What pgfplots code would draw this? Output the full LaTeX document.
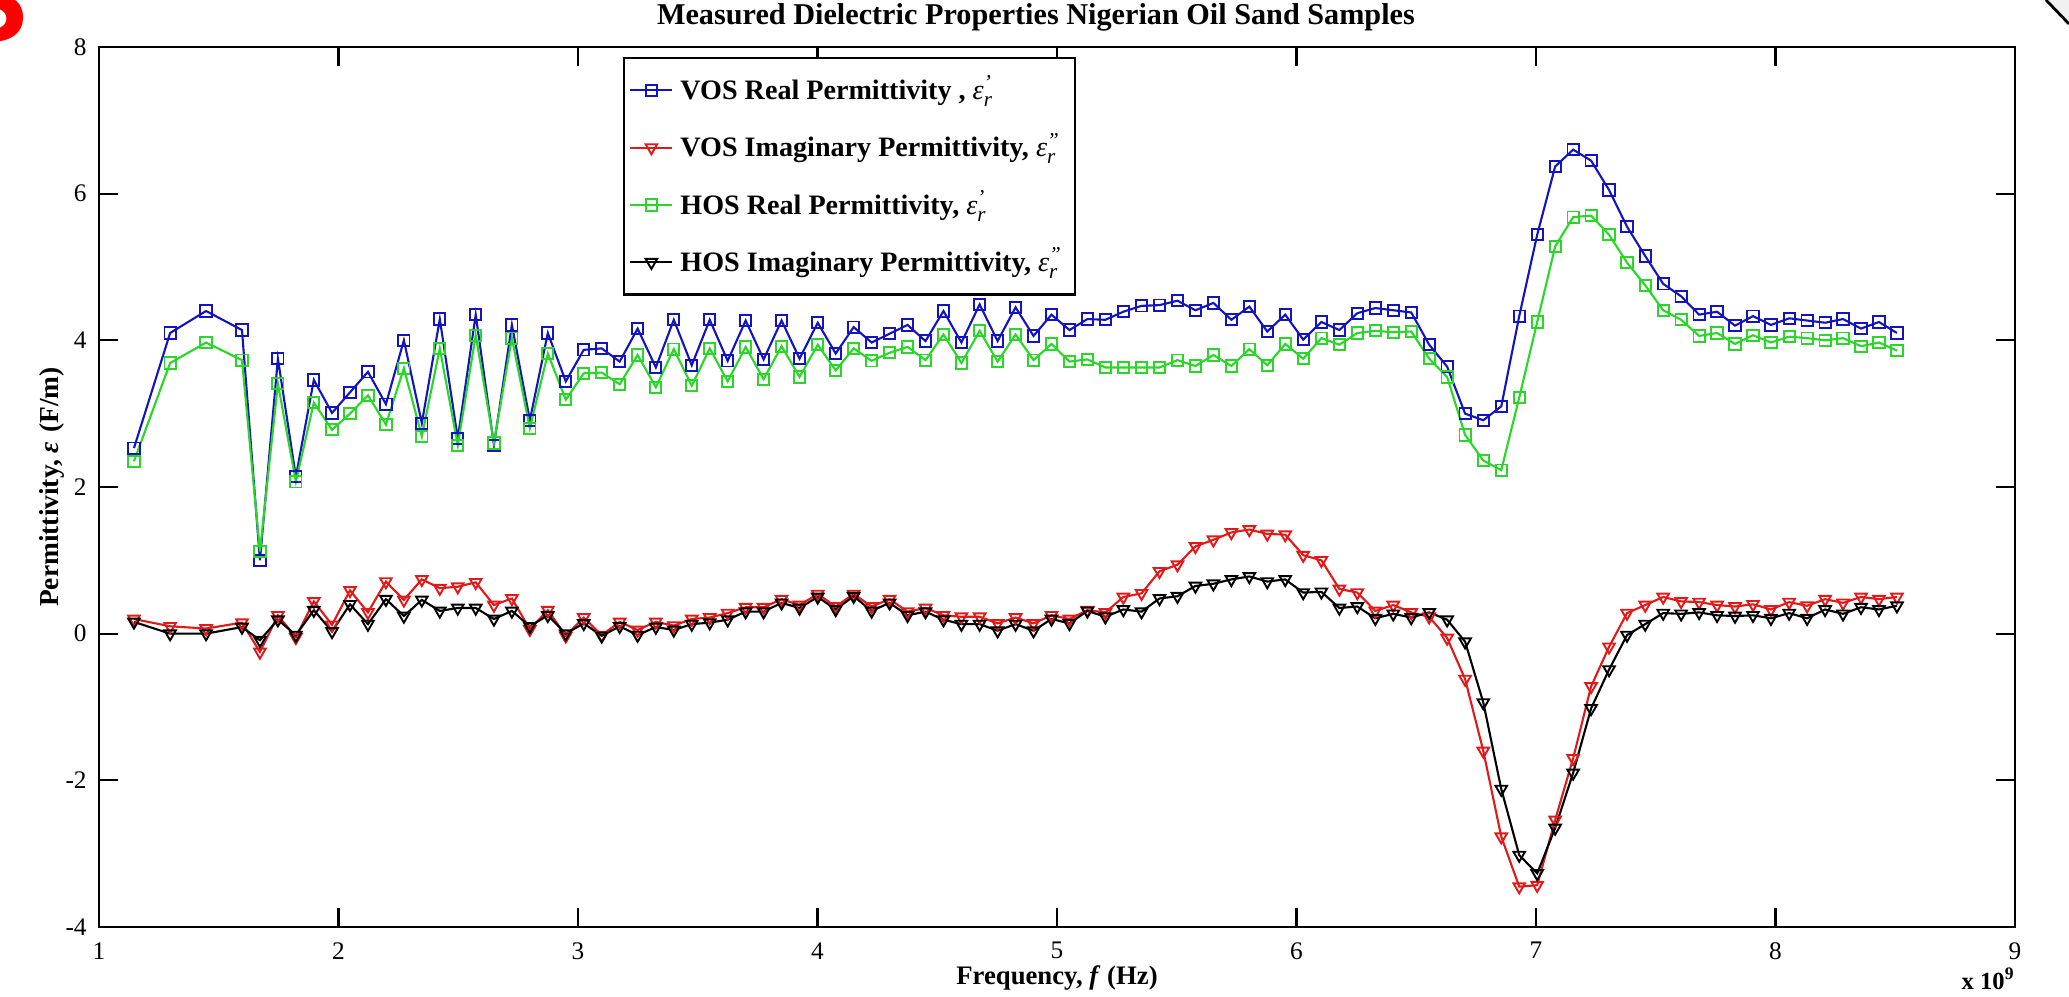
\documentclass[border=0pt]{standalone}
\usepackage{fontspec}
\setmainfont{Liberation Serif}
\usepackage{amsmath}
\usepackage{pgfplots}
\usepackage{pgfplotstable}
\pgfplotsset{compat=1.18}

\definecolor{vosblue}{RGB}{20,20,190}
\definecolor{vosred}{RGB}{225,25,25}
\definecolor{hosgreen}{RGB}{40,215,40}

% eps'_r style symbol for the legend
\newcommand{\epsr}[1]{{\mdseries\itshape ε}$^{\text{\mdseries\itshape #1}}_{\text{\mdseries\itshape r}}$}

% f in GHz; vr/vi = VOS real/imag, hr/hi = HOS real/imag
\pgfplotstableread{
f     vr    vi     hr    hi
1.146 2.53  0.20   2.35  0.16
1.297 4.10  0.10   3.69  0.00
1.447 4.40  0.07   3.97  0.00
1.597 4.14  0.15   3.73  0.09
1.672 1.00  -0.25  1.12  -0.09
1.747 3.75  0.25   3.41  0.19
1.822 2.14  -0.05  2.07  -0.02
1.897 3.46  0.44   3.15  0.32
1.973 3.01  0.12   2.78  0.03
2.048 3.29  0.59   3.00  0.40
2.123 3.57  0.29   3.25  0.13
2.198 3.13  0.71   2.85  0.47
2.273 4.00  0.46   3.62  0.24
2.348 2.87  0.74   2.69  0.46
2.423 4.29  0.62   3.89  0.31
2.498 2.66  0.64   2.57  0.35
2.573 4.35  0.70   4.07  0.35
2.649 2.57  0.39   2.60  0.20
2.724 4.21  0.48   4.03  0.31
2.799 2.91  0.06   2.80  0.10
2.874 4.10  0.32   3.82  0.25
2.949 3.44  -0.03  3.19  0.00
3.024 3.87  0.22   3.55  0.14
3.099 3.89  -0.02  3.56  -0.03
3.174 3.71  0.16   3.40  0.10
3.249 4.16  0.05   3.80  -0.02
3.325 3.63  0.16   3.36  0.09
3.400 4.28  0.11   3.88  0.05
3.475 3.66  0.20   3.38  0.13
3.550 4.28  0.22   3.89  0.15
3.625 3.72  0.28   3.44  0.19
3.700 4.27  0.36   3.91  0.30
3.775 3.74  0.36   3.47  0.30
3.850 4.27  0.47   3.92  0.42
3.925 3.75  0.39   3.50  0.35
4.001 4.24  0.54   3.94  0.50
4.076 3.82  0.37   3.59  0.33
4.151 4.18  0.54   3.89  0.51
4.226 3.97  0.37   3.72  0.31
4.301 4.09  0.47   3.83  0.42
4.376 4.21  0.30   3.91  0.25
4.451 3.99  0.35   3.73  0.30
4.526 4.40  0.25   4.08  0.19
4.601 3.97  0.23   3.69  0.13
4.677 4.49  0.23   4.13  0.13
4.752 3.99  0.14   3.71  0.04
4.827 4.45  0.22   4.08  0.13
4.902 4.06  0.14   3.73  0.04
4.977 4.35  0.25   3.95  0.20
5.052 4.14  0.20   3.71  0.14
5.127 4.29  0.32   3.74  0.31
5.202 4.28  0.29   3.63  0.23
5.277 4.39  0.50   3.63  0.33
5.353 4.47  0.55   3.63  0.30
5.428 4.48  0.85   3.63  0.48
5.503 4.54  0.94   3.73  0.51
5.578 4.41  1.19   3.65  0.65
5.653 4.51  1.28   3.80  0.68
5.728 4.28  1.38   3.65  0.74
5.803 4.46  1.42   3.88  0.78
5.878 4.12  1.36   3.66  0.71
5.953 4.35  1.35   3.95  0.74
6.028 4.01  1.07   3.75  0.56
6.104 4.25  1.00   4.03  0.57
6.179 4.14  0.61   3.94  0.35
6.254 4.37  0.56   4.10  0.37
6.329 4.44  0.31   4.13  0.21
6.404 4.41  0.39   4.11  0.27
6.479 4.38  0.29   4.12  0.22
6.554 3.94  0.23   3.75  0.29
6.629 3.64  -0.06  3.50  0.19
6.704 3.00  -0.62  2.71  -0.11
6.780 2.91  -1.60  2.36  -0.94
6.855 3.10  -2.77  2.23  -2.12
6.930 4.33  -3.45  3.22  -3.02
7.005 5.44  -3.43  4.25  -3.27
7.080 6.37  -2.54  5.28  -2.65
7.155 6.60  -1.70  5.68  -1.90
7.230 6.45  -0.72  5.70  -1.02
7.305 6.05  -0.18  5.44  -0.49
7.380 5.55  0.28   5.06  -0.02
7.456 5.15  0.39   4.75  0.13
7.531 4.77  0.50   4.41  0.28
7.606 4.60  0.44   4.28  0.27
7.681 4.35  0.43   4.06  0.29
7.756 4.39  0.39   4.10  0.25
7.831 4.20  0.37   3.95  0.24
7.906 4.33  0.40   4.07  0.25
7.981 4.21  0.33   3.97  0.21
8.057 4.30  0.43   4.05  0.28
8.132 4.27  0.38   4.03  0.21
8.207 4.24  0.47   4.00  0.33
8.282 4.29  0.42   4.03  0.27
8.357 4.16  0.50   3.92  0.36
8.432 4.25  0.47   3.97  0.33
8.507 4.10  0.50   3.86  0.38
}\permtable

\begin{document}
\begin{tikzpicture}
\useasboundingbox (0,0) rectangle (206.9mm,99.7mm);
% scanning leftovers in the corners of the source image
\node[anchor=south east, inner sep=0pt, text=red,
      font=\fontspec{Liberation Sans}\bfseries\fontsize{34}{34}\selectfont]
  at (2.9mm,95.4mm) {S};
\fill[gray!12] (204.6mm,99.7mm) -- (206.9mm,97.3mm) -- (206.9mm,99.7mm) -- cycle;
\draw[line width=0.8pt] (204.6mm,99.7mm) -- (206.9mm,97.3mm);

\begin{axis}[
  at={(9.9mm,7.0mm)}, anchor=south west,
  scale only axis, width=191.6mm, height=88mm,
  xmin=1, xmax=9, ymin=-4, ymax=8,
  xtick={1,2,3,4,5,6,7,8,9},
  xticklabels={1,2,3,4,5,6,7,8,9},
  ytick={-4,-2,0,2,4,6,8},
  yticklabels={-4,-2,0,2,4,6,8},
  tick align=inside,
  major tick length=1.9mm,
  axis line style={line width=0.7pt, black},
  tick style={line width=0.6pt, black},
  ticklabel style={font=\fontsize{7.2}{8}\selectfont},
  xticklabel style={yshift=-0.3mm},
  every axis title shift=0pt,
  title={Measured Dielectric Properties Nigerian Oil Sand Samples},
  title style={at={(0.489,1.034)}, anchor=center, font=\bfseries\fontsize{8.6}{9}\selectfont},
  xlabel={Frequency, \textit{f} (Hz)},
  xlabel style={at={(axis description cs:0.5,-0.058)}, anchor=center, font=\bfseries\fontsize{7.6}{8}\selectfont},
  ylabel={Permittivity, \textit{ε}\,\,(F/m)},
  ylabel style={at={(axis description cs:-0.0245,0.5)}, anchor=center, rotate=0, font=\bfseries\fontsize{7.8}{8}\selectfont},
  legend style={at={(0.2735,0.9886)}, anchor=north west, draw=black, line width=0.6pt,
    font=\bfseries\fontsize{8}{8.5}\selectfont, row sep=4pt,
    inner xsep=1.5pt, inner ysep=3pt, cells={anchor=west}},
  legend image code/.code={\draw[mark repeat=2, mark phase=2, #1]
    plot coordinates {(0mm,0mm) (2.1mm,0mm) (4.2mm,0mm)};},
  every axis plot/.append style={line width=0.6pt},
]
\addplot[color=vosblue, mark=square, mark size=1.6pt, mark options={solid, line width=0.55pt}]
  table[x=f, y=vr] {\permtable};
\addlegendentry{VOS Real Permittivity , \epsr{’}}
\addplot[color=vosred, mark=triangle, mark size=1.9pt, mark options={solid, rotate=180, line width=0.55pt}]
  table[x=f, y=vi] {\permtable};
\addlegendentry{VOS Imaginary Permittivity, \epsr{”}}
\addplot[color=hosgreen, mark=square, mark size=1.6pt, mark options={solid, line width=0.55pt}]
  table[x=f, y=hr] {\permtable};
\addlegendentry{HOS Real Permittivity, \epsr{’}}
\addplot[color=black, mark=triangle, mark size=1.9pt, mark options={solid, rotate=180, line width=0.55pt}]
  table[x=f, y=hi] {\permtable};
\addlegendentry{HOS Imaginary Permittivity, \epsr{”}}
\end{axis}
% exponent of the frequency axis, set below its right end
\node[anchor=base east, inner sep=0pt, font=\bfseries\fontsize{7}{8}\selectfont]
  at (201.6mm,0.7mm) {x 10\textsuperscript{9}};
\end{tikzpicture}
\end{document}
